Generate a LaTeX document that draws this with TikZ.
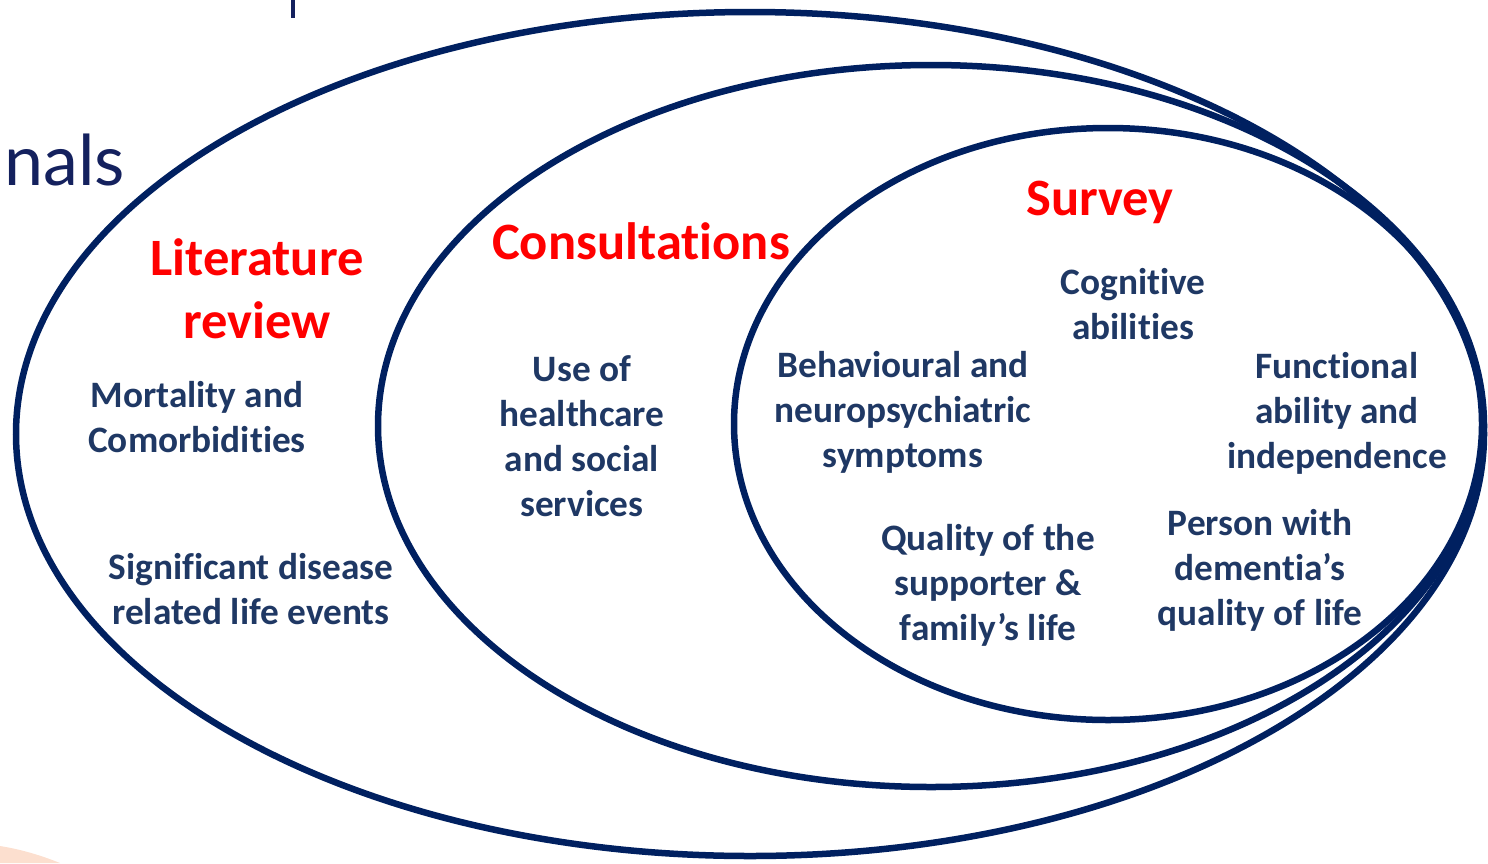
\documentclass[tikz,border=0pt]{standalone}
\usepackage{fontspec}
\setmainfont{Carlito}[Ligatures=NoCommon]
\newfontfamily\slidefont{Lato}
\definecolor{ringblue}{HTML}{002060}
\definecolor{itemblue}{HTML}{1F3864}
\definecolor{slideblue}{HTML}{14215E}
\definecolor{peach}{HTML}{F8B994}

\begin{document}
\begin{tikzpicture}[x=1pt,y=-1pt,
    ring/.style={draw=ringblue,line width=6.5pt},
    method/.style={text=red,align=center,inner sep=0pt,font=\fontsize{52.5}{63}\selectfont\bfseries},
    item/.style={text=itemblue,align=center,inner sep=0pt,font=\fontsize{37.3}{45}\selectfont\bfseries}]
    \useasboundingbox (0,0) rectangle (1488,863);
    % leftovers of the slide behind
    \node[anchor=base west,inner sep=0pt,text=slideblue,font=\fontsize{70}{84}\selectfont\slidefont] (nals) at (4,185) {nals};
    \draw[slideblue,line width=3.5pt] (293,0) -- (293,18);
    \fill[peach,opacity=0.45] (0,846) .. controls (25,850) and (45,857) .. (60,863) -- (0,863) -- cycle;
    % three nested sources
    \draw[ring] (750,434) ellipse [x radius=734,y radius=422];
    \draw[ring] (931,426) ellipse [x radius=553,y radius=361];
    \draw[ring] (1108,424) ellipse [x radius=374,y radius=296];
    % literature review
    \node[method] (litrev) at (257,289) {Literature\\review};
    \node[item] (mortality) at (197,417) {Mortality and\\Comorbidities};
    \node[item] (lifeevents) at (251,589) {Significant disease\\related life events};
    % consultations
    \node[method] (consult) at (641,241) {Consultations};
    \node[item] (services) at (582,436) {Use of\\healthcare\\and social\\services};
    % survey
    \node[method] (survey) at (1100,202) {Survey};
    \node[item] (cognitive) at (1133,304) {Cognitive\\abilities};
    \node[item] (behaviour) at (903,412) {Behavioural and\\neuropsychiatric\\symptoms};
    \node[item] (functional) at (1337,413) {Functional\\ability and\\independence};
    \node[item] (carerqol) at (988,585) {Quality of the\\supporter \&\\family’s life};
    \node[item] (personqol) at (1260,570) {Person with\\dementia’s\\quality of life};
\end{tikzpicture}
\end{document}
